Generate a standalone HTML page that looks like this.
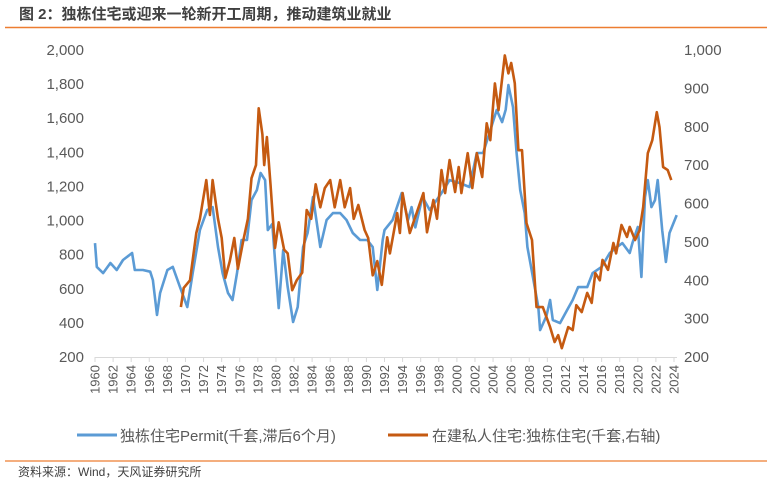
<!DOCTYPE html>
<html><head><meta charset="utf-8">
<style>
body{margin:0;background:#fff;}
svg{display:block;font-family:"Liberation Sans","Noto Sans CJK SC",sans-serif;}
</style></head>
<body>
<svg id="chart" width="773" height="484" viewBox="0 0 773 484" xmlns="http://www.w3.org/2000/svg">
<text x="19" y="19" font-size="15" font-weight="bold" fill="#404040">图 2：独栋住宅或迎来一轮新开工周期，推动建筑业就业</text>
<line x1="5" y1="27.5" x2="767" y2="27.5" stroke="#ED7D31" stroke-width="1.5"/>
<g id="axes"></g>
<g id="series"></g>
<g>
<line x1="77" y1="435" x2="117" y2="435" stroke="#5B9BD5" stroke-width="3"/>
<text x="120" y="441" font-size="15" fill="#595959">独栋住宅Permit(千套,滞后6个月)</text>
<line x1="388" y1="435" x2="428" y2="435" stroke="#C55A11" stroke-width="3"/>
<text x="432" y="441" font-size="15" fill="#595959">在建私人住宅:独栋住宅(千套,右轴)</text>
</g>
<line x1="5" y1="461" x2="767" y2="461" stroke="#ED7D31" stroke-width="1.2"/>
<text x="18" y="476" font-size="12" fill="#404040">资料来源：Wind，天风证券研究所</text>
</svg>
<script>
const leftTicks=[200,400,600,800,1000,1200,1400,1600,1800,2000];
const rightTicks=[200,300,400,500,600,700,800,900,1000];
const yearTicks=[1960,1962,1964,1966,1968,1970,1972,1974,1976,1978,1980,1982,1984,1986,1988,1990,1992,1994,1996,1998,2000,2002,2004,2006,2008,2010,2012,2014,2016,2018,2020,2022,2024];
const permitYears=[1960.0,1960.2,1960.9,1961.7,1962.4,1963.1,1964.1,1964.4,1965.3,1966.1,1966.4,1966.85,1967.2,1968.0,1968.6,1969.4,1970.2,1970.8,1971.6,1972.4,1973.0,1973.6,1974.1,1974.7,1975.2,1975.7,1976.2,1976.8,1977.3,1977.9,1978.3,1978.8,1979.1,1979.6,1979.9,1980.3,1980.8,1981.3,1981.9,1982.4,1983.0,1983.5,1984.1,1984.9,1985.6,1986.3,1987.1,1987.8,1988.5,1989.3,1990.1,1990.7,1991.2,1991.8,1992.0,1992.9,1993.9,1994.6,1995.0,1995.4,1996.2,1997.0,1998.3,1999.2,2000.3,2001.4,2002.2,2002.9,2003.6,2004.4,2005.0,2005.4,2005.7,2006.2,2006.6,2007.0,2007.5,2007.8,2008.4,2009.0,2009.2,2009.9,2010.3,2010.6,2011.4,2012.2,2012.8,2013.4,2014.4,2015.0,2016.0,2016.9,2017.7,2018.3,2019.1,2019.4,2020.0,2020.4,2020.8,2021.1,2021.5,2021.9,2022.2,2022.7,2023.1,2023.5,2024.3];
const permitValues=[868,728,692,751,710,769,810,710,710,700,651,446,575,710,728,610,493,692,944,1062,1079,845,692,575,534,692,886,886,1120,1179,1279,1237,944,980,769,487,827,610,405,493,845,927,1138,845,1003,1044,1044,1003,927,886,886,845,593,886,944,1003,1161,1003,1079,960,1138,1062,1161,1237,1220,1197,1396,1396,1513,1648,1577,1650,1794,1665,1396,1179,1044,845,669,493,358,440,534,417,399,476,534,610,610,692,728,810,845,868,810,868,962,669,1138,1237,1079,1120,1237,944,757,927,1032];
const startsYears=[1969.5,1969.8,1970.5,1971.2,1971.6,1972.3,1972.7,1973.0,1973.6,1974.0,1974.4,1974.9,1975.4,1975.8,1976.4,1976.9,1977.3,1977.8,1978.1,1978.5,1978.7,1979.0,1979.4,1979.9,1980.3,1980.9,1981.3,1981.8,1982.3,1982.9,1983.4,1983.9,1984.4,1984.9,1985.4,1986.0,1986.5,1987.1,1987.6,1988.2,1988.6,1989.1,1989.8,1990.2,1990.7,1991.2,1991.7,1992.3,1992.6,1993.4,1993.7,1994.0,1994.8,1995.4,1996.3,1996.7,1997.4,1997.8,1998.3,1998.7,1999.2,1999.8,2000.2,2000.5,2001.2,2001.7,2002.2,2002.8,2003.3,2003.7,2004.2,2004.6,2005.3,2005.7,2006.0,2006.4,2006.8,2007.2,2007.7,2008.3,2008.8,2009.5,2010.3,2010.8,2011.2,2011.6,2012.3,2012.8,2013.2,2013.8,2014.4,2014.9,2015.3,2015.8,2016.1,2016.7,2017.3,2017.6,2018.2,2018.8,2019.1,2019.7,2020.2,2020.6,2021.1,2021.6,2022.1,2022.4,2022.8,2023.3,2023.7];
const startsValues=[330,380,400,523,560,661,570,661,560,510,406,450,510,430,505,560,666,700,848,780,700,773,650,484,551,480,470,374,400,420,583,560,650,590,640,661,590,661,590,640,560,596,531,510,413,450,388,512,470,575,523,627,523,565,627,525,609,560,687,627,713,630,695,627,731,640,731,669,809,765,913,843,986,939,966,913,739,739,549,505,330,330,278,239,257,223,278,270,335,317,367,341,419,400,453,427,497,470,544,513,539,505,530,591,731,765,838,799,695,687,661];

const NS='http://www.w3.org/2000/svg';
const X0=95,X1=674,Y0=357,Y1=50;
function xs(yr){return X0+(yr-1960)/(2024-1960)*(X1-X0);}
function yl(v){return Y0-(v-200)/(2000-200)*(Y0-Y1);}
function yr(v){return Y0-(v-200)/(1000-200)*(Y0-Y1);}
const axes=document.getElementById('axes');
function mk(tag,attrs,parent){const e=document.createElementNS(NS,tag);for(const k in attrs)e.setAttribute(k,attrs[k]);parent.appendChild(e);return e;}
leftTicks.forEach(v=>{
  const t=mk('text',{x:84,y:yl(v)+5,'text-anchor':'end','font-size':15,fill:'#595959'},axes);
  
  
  t.textContent=v.toLocaleString('en-US');
});
rightTicks.forEach(v=>{
  const t=mk('text',{x:684,y:yr(v)+5,'font-size':15,fill:'#595959'},axes);
  
  
  t.textContent=v.toLocaleString('en-US');
});
const base=mk('line',{x1:X0,y1:Y0+0.5,x2:X1+3,y2:Y0+0.5,stroke:'#d9d9d9','stroke-width':1},axes);


yearTicks.forEach(y=>{
  const x=xs(y);
  const tk=mk('line',{x1:x,y1:Y0,x2:x,y2:Y0+5,stroke:'#d9d9d9'},axes);
  
  
  const t=mk('text',{x:0,y:0,'font-size':13,fill:'#595959','text-anchor':'end',transform:`translate(${x+4.5},${Y0+8}) rotate(-90)`},axes);
  
  
  t.textContent=y;
});
const ser=document.getElementById('series');
const p1=mk('path',{d:permitYears.map((y,i)=>(i?'L':'M')+xs(y).toFixed(1)+','+yl(permitValues[i]).toFixed(1)).join(''),fill:'none',stroke:'#5B9BD5','stroke-width':2.6,'stroke-linejoin':'round'},ser);


const p2=mk('path',{d:startsYears.map((y,i)=>(i?'L':'M')+xs(y).toFixed(1)+','+yr(startsValues[i]).toFixed(1)).join(''),fill:'none',stroke:'#C55A11','stroke-width':2.6,'stroke-linejoin':'round'},ser);


</script>
</body></html>
